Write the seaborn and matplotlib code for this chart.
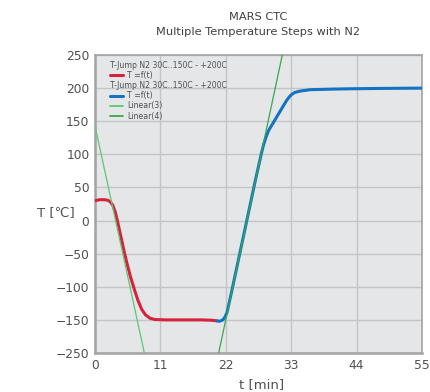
import numpy as np
import pandas as pd
import matplotlib
matplotlib.use("Agg")
import matplotlib.pyplot as plt
from matplotlib.lines import Line2D
import seaborn as sns

# ---- data ----
red_t = [0, 0.8, 1.6, 2.2, 2.6, 3.0, 3.4, 3.76, 4.3, 4.93, 5.5, 6.0, 6.62, 7.2, 7.85,
         8.5, 9.25, 10.1, 12, 15, 18, 19.5, 20.1, 20.5]
red_T = [30, 31.5, 31.5, 30.5, 28, 23, 13, 0, -22, -48, -69, -86, -104, -120, -134,
         -142.5, -147.5, -149.5, -150, -150, -150, -150.5, -151, -151.5]

blue_t = [20.5, 21.0, 21.5, 21.9, 22.2, 23, 24, 25, 26, 27, 28, 28.4, 28.8, 29.2, 30,
          30.6, 31.5, 32.2, 32.7, 33.1, 33.6, 34.5, 36.2, 40, 43, 48, 55]
blue_T = [-151.5, -152, -150, -145, -139, -106.6, -64.5, -22.4, 19.7, 61.8, 102, 116,
          127, 136, 148, 157, 170.5, 181, 187, 190.5, 193.5, 195.5, 197.6, 198.5,
          199, 199.5, 200]

lin3_t = [0, 8.3]
lin3_T = [143, -200]
lin4_t = [20.8, 31.5]
lin4_T = [-200, 250]

x_ticks = [0, 11, 22, 33, 44, 55]
y_ticks = [250, 200, 150, 100, 50, 0, -50, -100, -150, -200]
y_ticklabels = ["250", "200", "150", "100", "50", "0", "\u221250", "\u2212100", "\u2212150", "\u2212250"]

header = "T-Jump N2 30C..150C - +200C"

# ---- style ----
sns.set_style("whitegrid", {
    "axes.facecolor": "#e5e6e8",
    "grid.color": "#c4c4c6",
    "axes.edgecolor": "#a3a3a5",
})
plt.rcParams["font.family"] = ["DejaVu Sans"]

TXT = "#505050"
fig = plt.figure(figsize=(4.3, 3.92), dpi=100)
ax = fig.add_axes([95 / 430, 39 / 392, 327 / 430, 298 / 392])

red_df = pd.DataFrame({"t": red_t, "T": red_T})
blue_df = pd.DataFrame({"t": blue_t, "T": blue_T})
l3_df = pd.DataFrame({"t": lin3_t, "T": lin3_T})
l4_df = pd.DataFrame({"t": lin4_t, "T": lin4_T})

RED = "#d8223c"
BLUE = "#1272c4"
G3 = "#5cc774"
G4 = "#34a84c"

sns.lineplot(data=red_df, x="t", y="T", ax=ax, color=RED, lw=2.2, sort=False,
             estimator=None, zorder=3)
sns.lineplot(data=blue_df, x="t", y="T", ax=ax, color=BLUE, lw=2.2, sort=False,
             estimator=None, zorder=3)
sns.lineplot(data=l3_df, x="t", y="T", ax=ax, color=G3, lw=0.9, sort=False,
             estimator=None, zorder=4)
sns.lineplot(data=l4_df, x="t", y="T", ax=ax, color=G4, lw=0.9, sort=False,
             estimator=None, zorder=4)

ax.set_xlim(0, 55)
ax.set_ylim(-200, 250)
ax.set_xticks(x_ticks)
ax.set_xticklabels([str(v) for v in x_ticks])
ax.set_yticks(y_ticks)
ax.set_yticklabels(y_ticklabels)
ax.tick_params(axis="both", length=0, labelsize=8.8, labelcolor=TXT, pad=4)
ax.grid(True, lw=1.0, color="#c4c4c6")
for s in ax.spines.values():
    s.set_color("#a3a3a5")
    s.set_linewidth(1.2)
ax.spines["left"].set_linewidth(1.8)
ax.spines["bottom"].set_linewidth(1.8)

ax.set_xlabel("t [min]", fontsize=9.5, color=TXT)
ax.xaxis.set_label_coords(0.51, -0.085)
ax.set_ylabel("T [\u2103]", fontsize=9.5, color=TXT, rotation=0)
ax.yaxis.set_label_coords(-0.12, 0.45)

fig.text(258 / 430, 1 - 17 / 392, "MARS CTC", ha="center", va="center",
         fontsize=8.2, color="#404040")
fig.text(258 / 430, 1 - 32 / 392, "Multiple Temperature Steps with N2", ha="center",
         va="center", fontsize=8.2, color="#404040")

# ---- legend ----
blank = Line2D([], [], color="none")
handles = [blank, Line2D([], [], color=RED, lw=2.2), blank,
           Line2D([], [], color=BLUE, lw=2.2), Line2D([], [], color=G3, lw=1.3),
           Line2D([], [], color=G4, lw=1.3)]
labels = [header, "T =f(t)", header, "T =f(t)", "Linear(3)", "Linear(4)"]
leg = ax.legend(handles, labels, loc="upper left", bbox_to_anchor=(0.036, 0.99),
                frameon=False, fontsize=5.6, handlelength=1.7, handletextpad=0.5,
                labelspacing=0.14, borderaxespad=0.0, labelcolor=TXT)
try:
    col = leg._legend_handle_box.get_children()[0]
    items = col.get_children()
    for i in (0, 2):
        hb = items[i]
        hb.get_children()[0].width = 0
        hb.sep = 0
except Exception:
    pass

fig.savefig("out.png", dpi=100)
